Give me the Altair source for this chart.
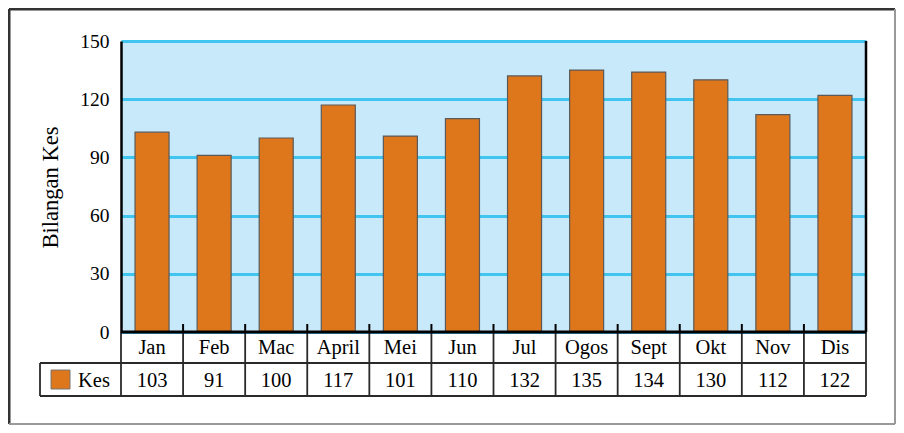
import altair as alt
import pandas as pd

months = ["Jan", "Feb", "Mac", "April", "Mei", "Jun", "Jul", "Ogos", "Sept", "Okt", "Nov", "Dis"]
kes = [103, 91, 100, 117, 101, 110, 132, 135, 134, 130, 112, 122]
y_ticks = [0, 30, 60, 90, 120, 150]
series_name = "Kes"

df = pd.DataFrame({"month": months, "kes": kes})
bounds = pd.DataFrame({"b": list(range(len(months) + 1))})

FONT = "Times New Roman, Liberation Serif, serif"
W, H = 745, 291
ORANGE = "#DE761C"
LINE = "#2a2a2a"

xband = alt.X("month:N", sort=months, axis=None,
              scale=alt.Scale(paddingInner=0.452, paddingOuter=0.226))

bars = alt.Chart(df).mark_bar(color=ORANGE, stroke="#5a5a5a", strokeWidth=1.2).encode(
    x=xband,
    y=alt.Y("kes:Q", scale=alt.Scale(domain=[0, 150], nice=False),
            axis=alt.Axis(values=y_ticks, grid=True, gridColor="#3FC5F0", gridWidth=3,
                          domain=True, domainColor="black", domainWidth=2.5, ticks=False,
                          labelFont=FONT, labelFontSize=19.5, labelColor="black", labelPadding=12,
                          title="Bilangan Kes", titleFont=FONT, titleFontSize=22.5,
                          titleFontWeight="normal", titleColor="black", titleAngle=270,
                          titleAlign="center", titleBaseline="middle",
                          titleX=-71, titleY=146)),
)

month_text = alt.Chart(df).mark_text(font=FONT, fontSize=20.5, color="black", baseline="middle").encode(
    x=xband, y=alt.value(307), text="month:N")
value_text = alt.Chart(df).mark_text(font=FONT, fontSize=20.5, color="black", baseline="middle").encode(
    x=xband, y=alt.value(340), text="kes:Q")

xq = alt.X("b:Q", scale=alt.Scale(domain=[0, len(months)], nice=False), axis=None)

vlines = alt.Chart(bounds).mark_rule(color=LINE, strokeWidth=1.8).encode(
    x=xq, y=alt.value(291), y2=alt.value(355))
ticks = alt.Chart(bounds).transform_filter("datum.b > 0 && datum.b < 12").mark_rule(
    color="black", strokeWidth=2).encode(x=xq, y=alt.value(283), y2=alt.value(291))
right_axis = alt.Chart(bounds).transform_filter("datum.b == 12").mark_rule(
    color="black", strokeWidth=2.5).encode(x=xq, y=alt.value(0), y2=alt.value(291))
bottom_axis = alt.Chart(bounds).transform_filter("datum.b == 0").mark_rule(
    color="black", strokeWidth=3).encode(x=alt.value(0), x2=alt.value(W), y=alt.value(291))

hl1 = alt.Chart(bounds).transform_filter("datum.b == 0").mark_rule(color=LINE, strokeWidth=1.8).encode(
    x=alt.value(-81), x2=alt.value(W), y=alt.value(322))
hl2 = alt.Chart(bounds).transform_filter("datum.b == 0").mark_rule(color=LINE, strokeWidth=1.8).encode(
    x=alt.value(-81), x2=alt.value(W), y=alt.value(355))
vl_leg = alt.Chart(bounds).transform_filter("datum.b == 0").mark_rule(color=LINE, strokeWidth=1.8).encode(
    x=alt.value(-81), y=alt.value(322), y2=alt.value(355))
swatch = alt.Chart(bounds).transform_filter("datum.b == 0").mark_rect(
    color=ORANGE, stroke="#777777", strokeWidth=1).encode(
    x=alt.value(-70), x2=alt.value(-51), y=alt.value(329), y2=alt.value(348))
leg_text = alt.Chart(bounds).transform_filter("datum.b == 0").mark_text(
    font=FONT, fontSize=20.5, color="black", align="left", baseline="middle").encode(
    x=alt.value(-43), y=alt.value(340), text=alt.value(series_name))

b_top = alt.Chart(bounds).transform_filter("datum.b == 0").mark_rule(color="#333333", strokeWidth=3).encode(
    x=alt.value(-112), x2=alt.value(774), y=alt.value(-32))
b_left = alt.Chart(bounds).transform_filter("datum.b == 0").mark_rule(color="#333333", strokeWidth=3).encode(
    x=alt.value(-112), y=alt.value(-32), y2=alt.value(383))
b_right = alt.Chart(bounds).transform_filter("datum.b == 0").mark_rule(color="#999999", strokeWidth=2).encode(
    x=alt.value(774), y=alt.value(-32), y2=alt.value(383))
b_bottom = alt.Chart(bounds).transform_filter("datum.b == 0").mark_rule(color="#999999", strokeWidth=2).encode(
    x=alt.value(-112), x2=alt.value(774), y=alt.value(383))

chart = alt.layer(
    bars, month_text, value_text, vlines, ticks, right_axis, bottom_axis,
    hl1, hl2, vl_leg, swatch, leg_text, b_top, b_left, b_right, b_bottom
).resolve_scale(x="independent").properties(
    width=W, height=H,
    autosize=alt.AutoSizeParams(type="none"),
    padding={"left": 113, "top": 33, "right": 30, "bottom": 93},
    background="white",
).configure_view(fill="#C8E9FA", stroke=None)

chart.save("out.html", embed_options={"renderer": "svg", "actions": False})
